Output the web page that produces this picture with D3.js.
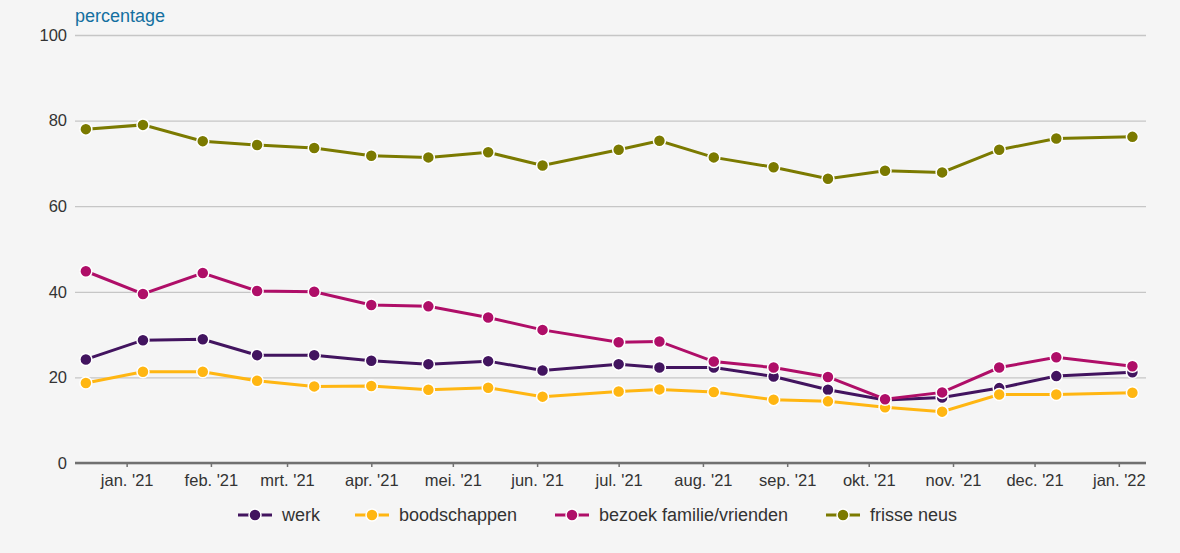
<!DOCTYPE html>
<html>
<head>
<meta charset="utf-8">
<script src="https://cdn.jsdelivr.net/npm/d3@7"></script>
<style>
  body { margin: 0; background: #f5f5f5; }
  svg { display: block; font-family: "Liberation Sans", Arial, sans-serif; }
</style>
</head>
<body>
<svg id="chart" width="1180" height="553"></svg>
<script>
// survey dates (roughly every three weeks)
var dates = ["2020-12-17", "2021-01-07", "2021-01-29", "2021-02-18", "2021-03-11",
  "2021-04-01", "2021-04-22", "2021-05-14", "2021-06-03", "2021-07-01",
  "2021-07-16", "2021-08-05", "2021-08-27", "2021-09-16", "2021-10-07",
  "2021-10-28", "2021-11-18", "2021-12-09", "2022-01-06"];

var werk = [24.2, 28.7, 28.9, 25.2, 25.2, 23.9, 23.1, 23.8, 21.6, 23.1,
  22.3, 22.3, 20.2, 17.1, 14.7, 15.3, 17.5, 20.3, 21.2];
var boodschappen = [18.7, 21.3, 21.3, 19.2, 17.9, 18.0, 17.1, 17.6, 15.5, 16.7,
  17.2, 16.6, 14.8, 14.4, 13.0, 12.0, 16.0, 16.0, 16.4];
var bezoek = [44.8, 39.5, 44.4, 40.2, 40.0, 36.9, 36.6, 34.0, 31.1, 28.2,
  28.4, 23.7, 22.3, 20.1, 14.9, 16.5, 22.3, 24.7, 22.6];
var frisseNeus = [78.0, 79.0, 75.2, 74.3, 73.6, 71.8, 71.4, 72.6, 69.5, 73.2,
  75.3, 71.4, 69.1, 66.4, 68.3, 67.9, 73.2, 75.8, 76.2];

var seriesNames = ["werk", "boodschappen", "bezoek familie/vrienden", "frisse neus"];
var seriesColors = ["#42145f", "#ffb612", "#af0e68", "#7b7a00"];
var yTicks = [0, 20, 40, 60, 80, 100];
var monthLabels = ["jan. '21", "feb. '21", "mrt. '21", "apr. '21", "mei. '21", "jun. '21",
  "jul. '21", "aug. '21", "sep. '21", "okt. '21", "nov. '21", "dec. '21", "jan. '22"];

var parse = d3.timeParse("%Y-%m-%d");
var series = [werk, boodschappen, bezoek, frisseNeus].map(function(vals, i) {
  return {
    name: seriesNames[i],
    color: seriesColors[i],
    values: vals.map(function(v, j) { return {date: parse(dates[j]), val: v}; })
  };
});

var svg = d3.select("#chart");
var margin = {top: 35, right: 34, bottom: 90, left: 75};
var width = 1180, height = 553;

var xScale = d3.scaleTime()
  .domain([parse("2020-12-13"), parse("2022-01-11")])
  .range([margin.left, width - margin.right]);

var yScale = d3.scaleLinear()
  .domain([0, 100])
  .range([height - margin.bottom, margin.top]);

// gridlines + y labels
var yAxis = d3.axisLeft(yScale)
  .tickValues(yTicks)
  .tickSize(-(width - margin.left - margin.right))
  .tickPadding(8);

var gy = svg.append("g")
  .attr("transform", "translate(" + margin.left + ",0)")
  .call(yAxis);
gy.select(".domain").remove();
gy.selectAll(".tick line").attr("stroke", "#c6c6c6").attr("stroke-width", 1.3);
gy.selectAll(".tick text")
  .attr("fill", "#333")
  .style("font-size", "16.5px")
  .style("font-family", "Liberation Sans, Arial, sans-serif");

svg.append("text")
  .attr("x", margin.left)
  .attr("y", 22)
  .attr("fill", "#136fa0")
  .style("font-size", "18px")
  .text("percentage");

// x axis
var monthTicks = d3.timeMonth.range(parse("2021-01-01"), parse("2022-01-02"));
var xAxis = d3.axisBottom(xScale)
  .tickValues(monthTicks)
  .tickSize(4)
  .tickPadding(7)
  .tickFormat(function(d, i) { return monthLabels[i]; });

var gx = svg.append("g")
  .attr("transform", "translate(0," + yScale(0) + ")")
  .call(xAxis);
gx.select(".domain").attr("stroke", "#707070").attr("stroke-width", 2.5)
  .attr("d", "M" + margin.left + ",0H" + (width - margin.right));
gx.selectAll(".tick line").attr("stroke", "#707070").attr("stroke-width", 1.5);
gx.selectAll(".tick text")
  .attr("fill", "#333")
  .style("font-size", "16.5px")
  .style("font-family", "Liberation Sans, Arial, sans-serif");

// lines
var line = d3.line()
  .x(function(d) { return xScale(d.date); })
  .y(function(d) { return yScale(d.val); });

var groups = svg.selectAll(".series")
  .data(series)
  .enter()
  .append("g")
  .attr("class", "series");

groups.append("path")
  .attr("d", function(d) { return line(d.values); })
  .attr("fill", "none")
  .attr("stroke", function(d) { return d.color; })
  .attr("stroke-width", 3);

groups.each(function(s) {
  d3.select(this).selectAll("circle")
    .data(s.values)
    .enter()
    .append("circle")
    .attr("cx", function(d) { return xScale(d.date); })
    .attr("cy", function(d) { return yScale(d.val); })
    .attr("r", 6)
    .attr("fill", s.color)
    .attr("stroke", "#fff")
    .attr("stroke-width", 1.5);
});

// legend
var legendX = [238, 355, 555, 826];
var legend = svg.selectAll(".legend")
  .data(series)
  .enter()
  .append("g")
  .attr("class", "legend")
  .attr("transform", function(d, i) { return "translate(" + legendX[i] + ",515)"; });

legend.append("line")
  .attr("x1", 0).attr("x2", 34)
  .attr("stroke", function(d) { return d.color; })
  .attr("stroke-width", 3);
legend.append("circle")
  .attr("cx", 17).attr("r", 6)
  .attr("fill", function(d) { return d.color; })
  .attr("stroke", "#fff").attr("stroke-width", 1.5);
legend.append("text")
  .attr("x", 44)
  .attr("dy", "0.35em")
  .attr("fill", "#333")
  .style("font-size", "18px")
  .text(function(d) { return d.name; });
</script>
</body>
</html>
